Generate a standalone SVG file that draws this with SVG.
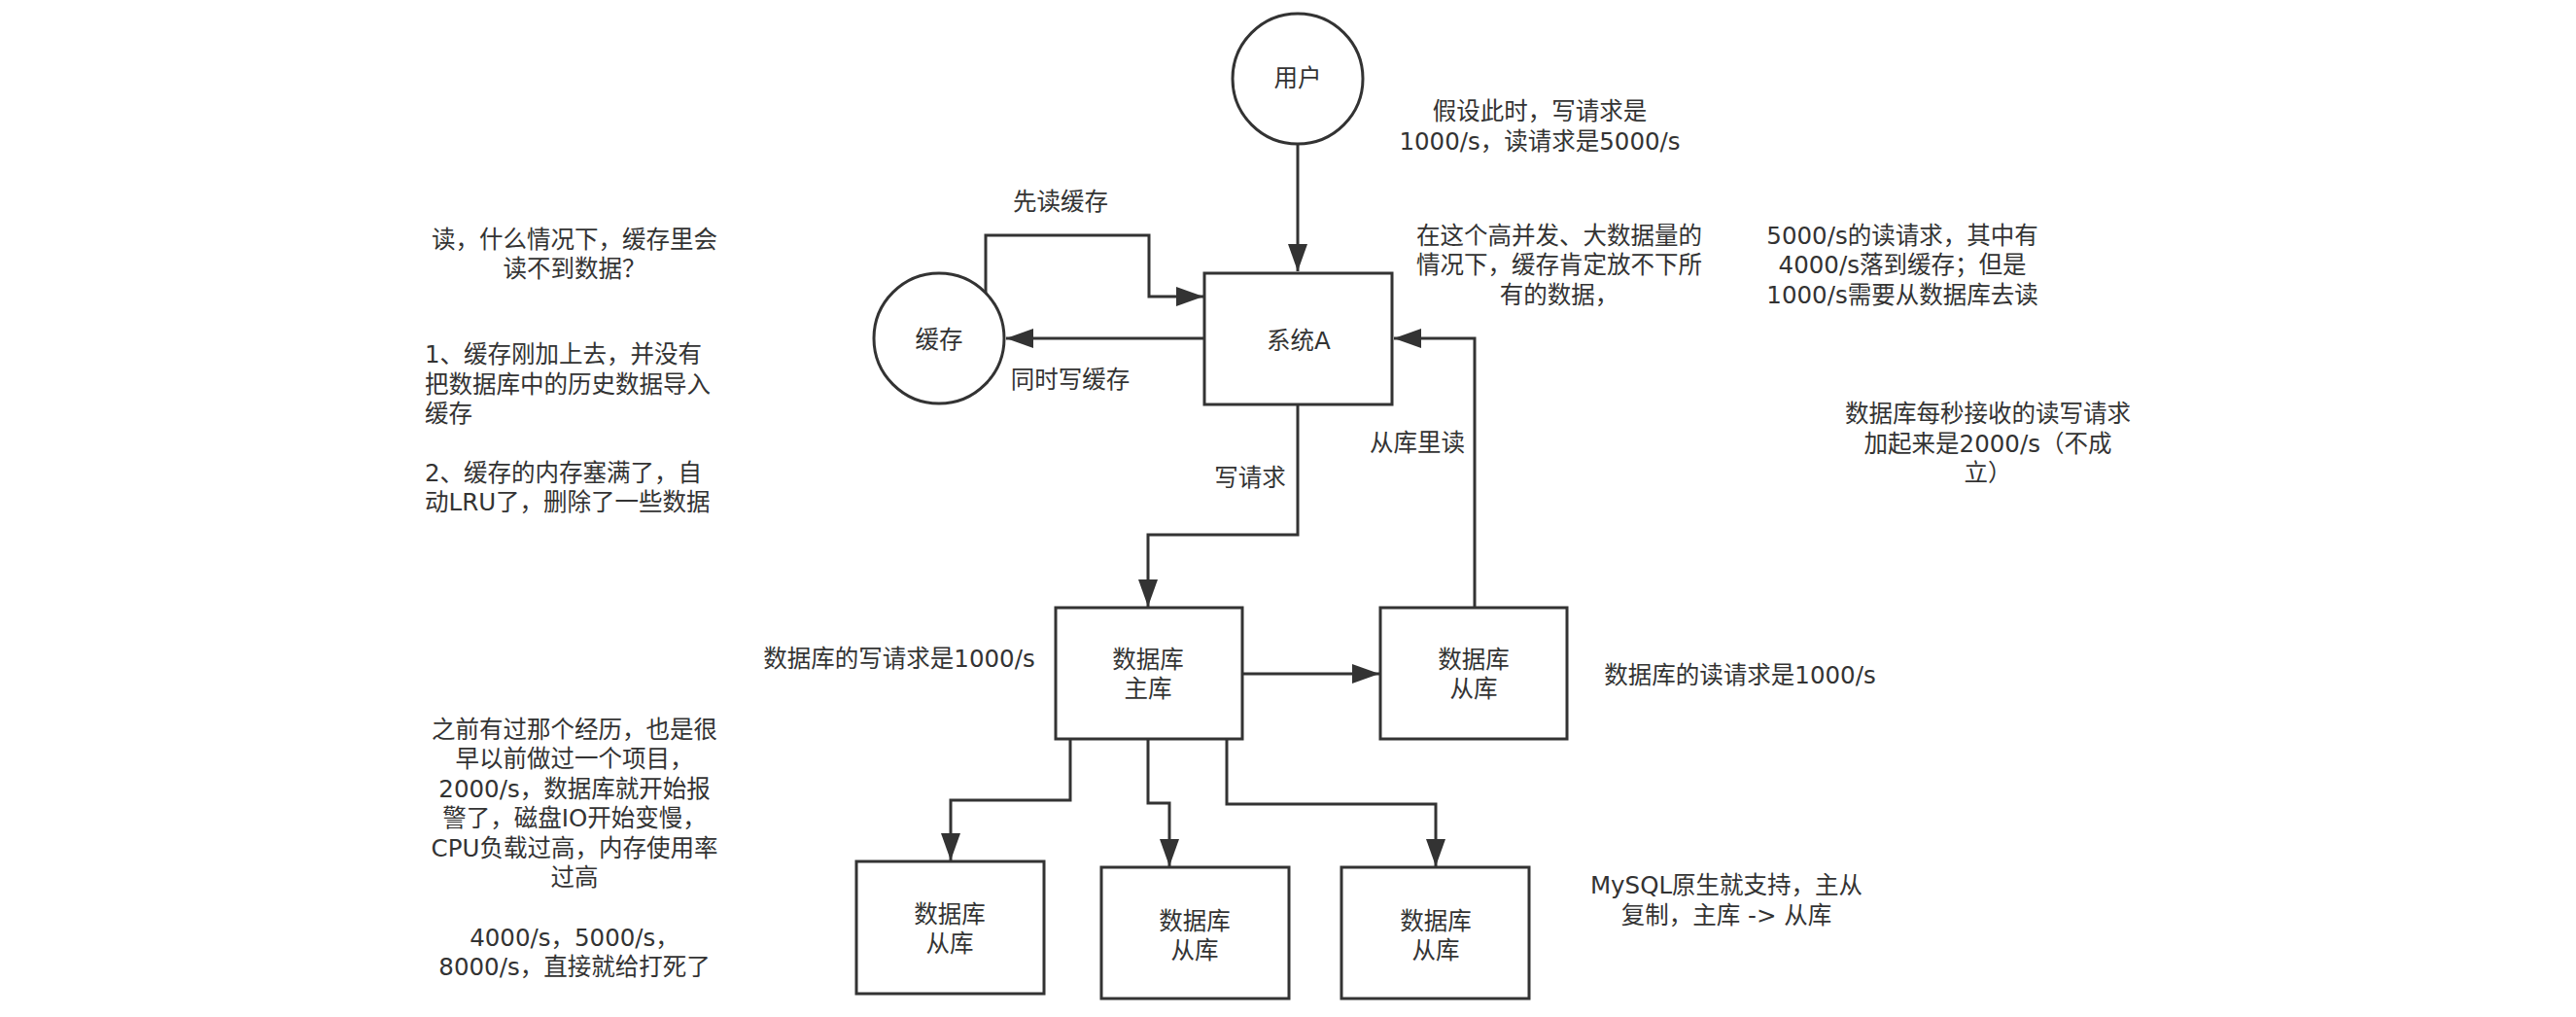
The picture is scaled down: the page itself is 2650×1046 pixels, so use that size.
<svg xmlns="http://www.w3.org/2000/svg" width="2650" height="1046" viewBox="0 0 2650 1046">
<style>
text{font-family:"DejaVu Sans","Noto Sans CJK SC",sans-serif;font-size:24.5px;fill:#333;dominant-baseline:central}
.c{text-anchor:middle}
.shape{fill:#fff;stroke:#333;stroke-width:3}
.edge{fill:none;stroke:#333;stroke-width:3}
</style>
<defs>
<marker id="arr" markerUnits="userSpaceOnUse" markerWidth="28" markerHeight="20" refX="28" refY="10" orient="auto">
<path d="M0,0 L28,10 L0,20 z" fill="#333"/>
</marker>
</defs>
<rect width="2650" height="1046" fill="#fff"/>
<g id="connectors">
<path class="edge" d="M1335,148 L1335,279" marker-end="url(#arr)"/>
<path class="edge" d="M1014,301 L1014,242 L1182,242 L1182,305 L1238,305" marker-end="url(#arr)"/>
<path class="edge" d="M1239,348 L1035,348" marker-end="url(#arr)"/>
<path class="edge" d="M1517,625 L1517,348 L1434,348" marker-end="url(#arr)"/>
<path class="edge" d="M1335,416 L1335,550 L1181,550 L1181,624" marker-end="url(#arr)"/>
<path class="edge" d="M1278,693 L1419,693" marker-end="url(#arr)"/>
<path class="edge" d="M1101,760 L1101,823 L978,823 L978,885" marker-end="url(#arr)"/>
<path class="edge" d="M1181,760 L1181,826 L1203,826 L1203,891" marker-end="url(#arr)"/>
<path class="edge" d="M1262,760 L1262,827 L1477,827 L1477,891" marker-end="url(#arr)"/>
</g>
<g id="user"><circle class="shape" cx="1335" cy="81" r="67"/><text class="c" x="1335" y="80">用户</text></g>
<g id="cache"><circle class="shape" cx="966" cy="348" r="67"/><text class="c" x="966" y="349">缓存</text></g>
<g id="systemA"><rect class="shape" x="1239" y="281" width="193" height="135"/><text class="c" x="1336" y="350">系统A</text></g>
<g id="master"><rect class="shape" x="1086" y="625" width="192" height="135"/><text class="c" x="1181" y="678">数据库</text><text class="c" x="1181" y="708">主库</text></g>
<g id="slave0"><rect class="shape" x="1420" y="625" width="192" height="135"/><text class="c" x="1516" y="678">数据库</text><text class="c" x="1516" y="708">从库</text></g>
<g id="slave1"><rect class="shape" x="881" y="886" width="193" height="136"/><text class="c" x="977" y="940">数据库</text><text class="c" x="977" y="970">从库</text></g>
<g id="slave2"><rect class="shape" x="1133" y="892" width="193" height="135"/><text class="c" x="1229" y="947">数据库</text><text class="c" x="1229" y="977">从库</text></g>
<g id="slave3"><rect class="shape" x="1380" y="892" width="193" height="135"/><text class="c" x="1477" y="947">数据库</text><text class="c" x="1477" y="977">从库</text></g>
<g id="labels">
<text class="c" x="1091" y="207">先读缓存</text>
<text class="c" x="1101" y="390">同时写缓存</text>
<text class="c" x="1286" y="491">写请求</text>
<text class="c" x="1458" y="455">从库里读</text>
<text class="c" x="925" y="677">数据库的写请求是1000/s</text>
<text class="c" x="1790" y="694">数据库的读请求是1000/s</text>
<text class="c" x="1584" y="114">假设此时，写请求是</text>
<text class="c" x="1584" y="145">1000/s，读请求是5000/s</text>
<text class="c" x="1604" y="242">在这个高并发、大数据量的</text>
<text class="c" x="1604" y="272">情况下，缓存肯定放不下所</text>
<text class="c" x="1604" y="303">有的数据，</text>
<text class="c" x="1957" y="242">5000/s的读请求，其中有</text>
<text class="c" x="1957" y="272">4000/s落到缓存；但是</text>
<text class="c" x="1957" y="303">1000/s需要从数据库去读</text>
<text class="c" x="2045" y="425">数据库每秒接收的读写请求</text>
<text class="c" x="2045" y="456">加起来是2000/s（不成</text>
<text class="c" x="2045" y="486">立）</text>
<text class="c" x="591" y="246">读，什么情况下，缓存里会</text>
<text class="c" x="591" y="276">读不到数据？</text>
<text x="437" y="364">1、缓存刚加上去，并没有</text>
<text x="437" y="395">把数据库中的历史数据导入</text>
<text x="437" y="425">缓存</text>
<text x="437" y="486">2、缓存的内存塞满了，自</text>
<text x="437" y="516">动LRU了，删除了一些数据</text>
<text class="c" x="591" y="750">之前有过那个经历，也是很</text>
<text class="c" x="591" y="780">早以前做过一个项目，</text>
<text class="c" x="591" y="811">2000/s，数据库就开始报</text>
<text class="c" x="591" y="841">警了，磁盘IO开始变慢，</text>
<text class="c" x="591" y="872">CPU负载过高，内存使用率</text>
<text class="c" x="591" y="902">过高</text>
<text class="c" x="591" y="964">4000/s，5000/s，</text>
<text class="c" x="591" y="994">8000/s，直接就给打死了</text>
<text class="c" x="1776" y="910">MySQL原生就支持，主从</text>
<text class="c" x="1776" y="941">复制，主库 -&gt; 从库</text>
</g>
</svg>
